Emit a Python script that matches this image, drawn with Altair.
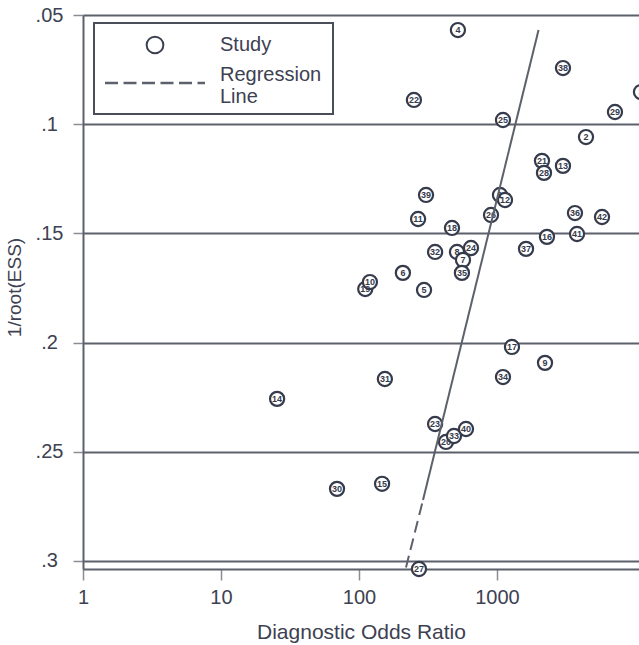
import altair as alt
import pandas as pd

# Study points (listed in drawing order)
study = ["4", "22", "38", "3", "29", "25", "2", "21", "28", "13", "39", "11",
         "1", "12", "26", "18", "32", "6", "19", "10", "5", "8", "24", "7",
         "35", "37", "16", "41", "36", "42", "17", "9", "34", "31", "14",
         "23", "20", "33", "40", "30", "15", "27"]
dor = [521, 250, 3007, 11050, 7160, 1105, 4415, 2118, 2191, 3007, 306, 268,
       1051, 1143, 905, 472, 356, 208, 111, 120, 296, 513, 648, 567,
       557, 1623, 2302, 3800, 3673, 5768, 1284, 2228, 1105, 154, 25.5,
       356, 427, 488, 596, 69.3, 147, 272]
inv_root_ess = [0.0569, 0.0889, 0.0743, 0.0853, 0.0944, 0.0981, 0.1059, 0.1168,
                0.1223, 0.1191, 0.1324, 0.1434, 0.1324, 0.1347, 0.1416, 0.1475,
                0.1585, 0.1681, 0.1755, 0.1723, 0.1759, 0.1585, 0.1567, 0.1622,
                0.1681, 0.1571, 0.1516, 0.1503, 0.1407, 0.1425, 0.2020, 0.2093,
                0.2158, 0.2167, 0.2258, 0.2373, 0.2455, 0.2428, 0.2396, 0.2670,
                0.2647, 0.3037]

# Regression line (solid upper part, dashed lower part)
reg_dor = [2000, 291, 291, 219]
reg_y = [0.0569, 0.2721, 0.2721, 0.303]
reg_part = ["solid", "solid", "dashed", "dashed"]

y_ticks = [0.05, 0.1, 0.15, 0.2, 0.25, 0.3]
x_ticks = [1, 10, 100, 1000]

TXT = "#3d4151"
LINE = "#5d616c"
FONT = "Liberation Sans"

pts = pd.DataFrame({"study": study, "dor": dor, "ess": inv_root_ess})
reg = pd.DataFrame({"dor": reg_dor, "ess": reg_y, "part": reg_part})
one = pd.DataFrame({"a": [0]})

xscale = alt.Scale(type="log", domain=[1, 10691], nice=False)
yscale = alt.Scale(domain=[0.05, 0.3037], reverse=True, nice=False, zero=False)

xaxis = alt.Axis(values=x_ticks, format="d", title="Diagnostic Odds Ratio",
                 grid=False, domainColor=LINE, domainWidth=2,
                 tickColor="#8a8d96", tickWidth=1.5, tickSize=11,
                 labelFontSize=20, labelColor=TXT, labelPadding=7, labelFont=FONT,
                 labelFlush=False,
                 titleFontSize=21, titleFont=FONT, titleColor=TXT, titleFontWeight="normal",
                 titleBaseline="alphabetic", titleY=69)
yaxis = alt.Axis(values=y_ticks, labelExpr="substring(format(datum.value, '.2~f'), 1)",
                 title="1/root(ESS)", grid=True, gridColor=LINE, gridWidth=2, gridOpacity=1,
                 domainColor=LINE, domainWidth=2, tickColor="#8a8d96", tickWidth=1.5,
                 tickSize=10, labelAlign="center", labelBaseline="middle", labelPadding=24,
                 labelFontSize=20, labelColor=TXT, labelFont=FONT, labelFlush=False,
                 titleFontSize=19, titleFont=FONT, titleColor=TXT, titleFontWeight="normal",
                 titleAngle=270, titleAlign="center", titleBaseline="middle",
                 titleX=-69, titleY=272)

circles = alt.Chart(pts).mark_circle(fill="white", stroke="#363b4c", strokeWidth=2.2,
                                     size=200, opacity=1, clip=False).encode(
    x=alt.X("dor:Q", scale=xscale, axis=xaxis),
    y=alt.Y("ess:Q", scale=yscale, axis=yaxis),
)
labels = alt.Chart(pts).mark_text(fontSize=9, fontWeight="bold", color="#363b4c",
                                  font=FONT, clip=False).encode(
    x="dor:Q", y="ess:Q", text="study:N")

reg_solid = alt.Chart(reg).transform_filter(alt.datum.part == "solid").mark_line(
    color=LINE, strokeWidth=2).encode(x="dor:Q", y="ess:Q")
reg_dashed = alt.Chart(reg).transform_filter(alt.datum.part == "dashed").mark_line(
    color=LINE, strokeWidth=2, strokeDash=[12, 6]).encode(x="dor:Q", y="ess:Q")

# Legend box
leg_box = alt.Chart(one).mark_rect(fill="white", stroke="#4a4e5a", strokeWidth=2).encode(
    x=alt.value(11), x2=alt.value(250), y=alt.value(8), y2=alt.value(99))
leg_sym = alt.Chart(one).mark_point(shape="circle", filled=False, color=TXT,
                                    strokeWidth=2, size=280, opacity=1).encode(
    x=alt.value(72), y=alt.value(30))
leg_dash = alt.Chart(one).mark_rule(color=LINE, strokeWidth=2.5, strokeDash=[13, 5.5]).encode(
    x=alt.value(22), x2=alt.value(122), y=alt.value(68))
leg_t1 = alt.Chart(one).mark_text(text="Study", align="left", baseline="middle",
                                  fontSize=20, font=FONT, color=TXT).encode(
    x=alt.value(137), y=alt.value(30))
leg_t2 = alt.Chart(one).mark_text(text="Regression", align="left", baseline="middle",
                                  fontSize=20, font=FONT, color=TXT).encode(
    x=alt.value(137), y=alt.value(60))
leg_t3 = alt.Chart(one).mark_text(text="Line", align="left", baseline="middle",
                                  fontSize=20, font=FONT, color=TXT).encode(
    x=alt.value(137), y=alt.value(82))

chart = alt.layer(circles, labels, reg_solid, reg_dashed,
                  leg_box, leg_sym, leg_dash, leg_t1, leg_t2, leg_t3).properties(
    width=556, height=554,
    autosize=alt.AutoSizeParams(type="none"),
    padding={"left": 83, "top": 15, "right": 0, "bottom": 76},
    background="white",
).configure_view(stroke=None)

chart.save("out.html", embed_options={"renderer": "svg", "actions": False})
